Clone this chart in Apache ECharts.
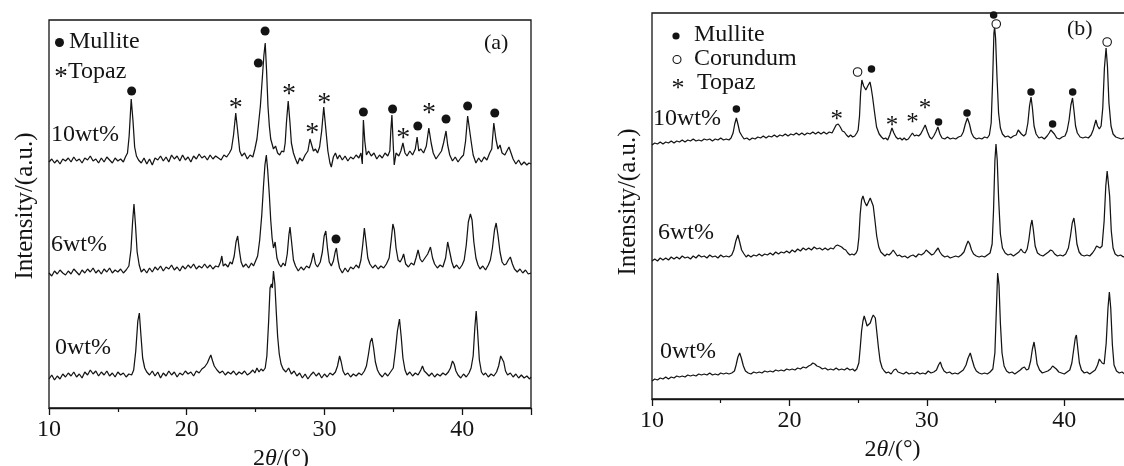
<!DOCTYPE html>
<html><head><meta charset="utf-8">
<script src="https://cdn.jsdelivr.net/npm/echarts@6/dist/echarts.min.js"></script>
<style>html,body{margin:0;padding:0;background:#fff;overflow:hidden}#c{width:1124px;height:466px}</style>
</head><body><div id="c"></div>
<script>
// 2θ tick labels
const xTicks = [10, 20, 30, 40];
// Panel (a): [2θ, intensity a.u.]
const a10 = [[10.0,-1],[10.2,2],[10.4,-2],[10.6,1],[10.8,-3],[11.0,2],[11.2,0],[11.4,3],[11.6,-1],[11.8,4],[12.0,0],[12.2,2],[12.4,-2],[12.6,3],[12.8,1],[13.0,5],[13.2,0],[13.4,2],[13.6,-2],[13.8,3],[14.0,-1],[14.2,4],[14.4,1],[14.6,-2],[14.8,3],[15.0,0],[15.2,2],[15.4,-1],[15.55,4],[15.7,8],[15.82,25],[15.97,62],[16.1,40],[16.22,14],[16.35,5],[16.5,1],[16.7,-2],[16.9,3],[17.1,-3],[17.3,2],[17.5,-4],[17.7,3],[17.9,1],[18.1,5],[18.3,0],[18.5,4],[18.7,-1],[18.9,6],[19.1,2],[19.3,5],[19.5,0],[19.7,6],[19.9,1],[20.1,4],[20.3,-1],[20.5,5],[20.7,2],[20.9,7],[21.1,3],[21.3,5],[21.5,1],[21.7,6],[21.9,2],[22.1,5],[22.3,3],[22.5,1],[22.7,6],[22.9,4],[23.1,8],[23.25,12],[23.4,26],[23.56,48],[23.7,30],[23.85,10],[24.0,5],[24.2,8],[24.4,2],[24.6,6],[24.8,4],[24.95,12],[25.1,22],[25.2,35],[25.35,55],[25.5,85],[25.6,105],[25.7,118],[25.8,90],[25.9,55],[26.0,35],[26.1,22],[26.2,20],[26.3,12],[26.45,15],[26.6,8],[26.75,6],[26.9,10],[27.05,9],[27.15,18],[27.25,40],[27.37,60],[27.5,38],[27.6,18],[27.75,8],[27.9,2],[28.05,-3],[28.2,3],[28.4,0],[28.6,6],[28.8,10],[28.95,22],[29.05,24],[29.2,10],[29.35,12],[29.5,8],[29.65,14],[29.8,30],[29.95,54],[30.1,32],[30.25,10],[30.4,-2],[30.5,-6],[30.65,4],[30.8,8],[30.95,2],[31.1,6],[31.3,1],[31.5,5],[31.7,0],[31.9,4],[32.1,2],[32.3,6],[32.5,3],[32.65,8],[32.75,-3],[32.83,41],[32.93,20],[33.05,6],[33.2,10],[33.4,5],[33.6,8],[33.8,2],[34.0,6],[34.2,3],[34.4,8],[34.6,5],[34.75,10],[34.82,30],[34.9,46],[35.0,15],[35.07,-4],[35.2,8],[35.4,5],[35.55,10],[35.7,18],[35.85,8],[36.0,5],[36.2,10],[36.4,6],[36.6,12],[36.73,24],[36.85,10],[37.0,12],[37.2,8],[37.4,15],[37.58,33],[37.75,18],[37.9,8],[38.1,2],[38.3,6],[38.5,10],[38.65,18],[38.83,30],[38.95,16],[39.1,6],[39.3,0],[39.5,4],[39.7,-1],[39.9,3],[40.1,6],[40.25,20],[40.4,45],[40.5,44],[40.65,20],[40.8,6],[41.0,-2],[41.2,3],[41.4,-1],[41.6,4],[41.8,1],[42.0,8],[42.15,12],[42.3,38],[42.45,22],[42.6,12],[42.75,16],[42.9,8],[43.1,6],[43.25,10],[43.4,14],[43.55,8],[43.7,2],[43.9,-3],[44.1,1],[44.3,-4],[44.5,-1],[44.7,-4],[44.85,-2],[45.0,-3]];
const a6 = [[10.0,-3],[10.2,-6],[10.4,-1],[10.6,-4],[10.8,0],[11.0,-3],[11.2,-5],[11.4,-1],[11.6,-4],[11.8,1],[12.0,-2],[12.2,-5],[12.4,0],[12.6,-3],[12.8,1],[13.0,-2],[13.2,2],[13.4,-3],[13.6,0],[13.8,-4],[14.0,1],[14.2,-2],[14.4,2],[14.6,-3],[14.8,0],[15.0,-2],[15.2,1],[15.4,-3],[15.6,0],[15.8,4],[15.95,20],[16.07,48],[16.17,66],[16.28,45],[16.4,18],[16.55,5],[16.7,-2],[16.9,1],[17.1,-3],[17.3,2],[17.5,-2],[17.7,3],[17.9,0],[18.1,4],[18.3,-1],[18.5,3],[18.7,1],[18.9,5],[19.1,0],[19.3,3],[19.5,-1],[19.7,4],[19.9,1],[20.1,5],[20.3,2],[20.5,6],[20.7,1],[20.9,4],[21.1,2],[21.3,6],[21.5,2],[21.7,5],[21.9,1],[22.1,4],[22.3,3],[22.45,8],[22.55,14],[22.65,4],[22.8,6],[23.0,3],[23.15,8],[23.3,6],[23.45,14],[23.58,28],[23.7,34],[23.82,20],[23.95,8],[24.1,3],[24.3,6],[24.5,2],[24.7,7],[24.85,4],[25.0,9],[25.15,14],[25.3,30],[25.45,55],[25.58,85],[25.68,105],[25.78,115],[25.88,100],[26.0,75],[26.1,50],[26.2,32],[26.3,22],[26.42,28],[26.55,12],[26.7,6],[26.85,3],[27.0,7],[27.15,4],[27.3,16],[27.42,35],[27.5,43],[27.6,30],[27.75,10],[27.9,4],[28.1,-1],[28.3,3],[28.5,0],[28.7,4],[28.9,2],[29.05,8],[29.2,17],[29.35,6],[29.5,3],[29.7,8],[29.85,18],[29.98,34],[30.1,39],[30.22,22],[30.35,8],[30.5,4],[30.65,9],[30.78,18],[30.87,22],[30.98,10],[31.1,2],[31.3,-3],[31.5,2],[31.7,-2],[31.9,3],[32.1,1],[32.3,5],[32.5,2],[32.65,10],[32.78,25],[32.9,42],[33.02,28],[33.15,12],[33.3,6],[33.5,2],[33.7,5],[33.9,1],[34.1,4],[34.3,2],[34.5,6],[34.7,12],[34.85,30],[34.97,46],[35.08,40],[35.2,22],[35.35,10],[35.5,8],[35.65,12],[35.75,16],[35.9,6],[36.1,3],[36.3,7],[36.5,5],[36.65,12],[36.8,20],[36.95,11],[37.1,8],[37.3,12],[37.5,16],[37.7,23],[37.85,12],[38.0,6],[38.2,2],[38.4,5],[38.6,3],[38.8,12],[38.95,28],[39.1,18],[39.25,8],[39.4,2],[39.6,5],[39.8,1],[40.0,5],[40.15,10],[40.3,25],[40.45,48],[40.6,56],[40.72,50],[40.85,28],[41.0,12],[41.15,5],[41.3,1],[41.5,4],[41.7,0],[41.9,5],[42.05,10],[42.2,22],[42.35,40],[42.47,47],[42.6,35],[42.75,18],[42.9,8],[43.05,5],[43.2,6],[43.35,10],[43.5,13],[43.65,6],[43.8,1],[44.0,-2],[44.2,1],[44.4,-3],[44.6,0],[44.8,-4],[45.0,-3]];
const a0 = [[10.0,-3],[10.2,1],[10.4,-4],[10.6,0],[10.8,-3],[11.0,2],[11.2,-1],[11.4,3],[11.6,0],[11.8,4],[12.0,-1],[12.2,2],[12.4,-2],[12.6,4],[12.8,1],[13.0,6],[13.2,2],[13.4,5],[13.6,0],[13.8,4],[14.0,1],[14.2,5],[14.4,0],[14.6,3],[14.8,-1],[15.0,4],[15.2,1],[15.4,3],[15.6,-1],[15.8,2],[16.0,1],[16.15,6],[16.3,25],[16.45,55],[16.56,63],[16.68,40],[16.8,18],[16.95,8],[17.1,4],[17.3,1],[17.5,5],[17.7,0],[17.9,4],[18.1,-2],[18.3,3],[18.5,0],[18.7,5],[18.9,1],[19.1,4],[19.3,-1],[19.5,3],[19.7,1],[19.9,5],[20.1,2],[20.3,4],[20.5,0],[20.7,5],[20.9,3],[21.1,7],[21.3,9],[21.5,13],[21.65,18],[21.75,21],[21.88,15],[22.0,10],[22.2,6],[22.4,3],[22.6,5],[22.8,1],[23.0,4],[23.2,2],[23.4,5],[23.6,1],[23.8,4],[24.0,2],[24.2,5],[24.4,1],[24.6,3],[24.8,6],[24.95,3],[25.1,8],[25.25,4],[25.4,7],[25.55,5],[25.7,8],[25.82,20],[25.95,55],[26.05,88],[26.15,92],[26.22,88],[26.3,105],[26.4,92],[26.5,65],[26.6,40],[26.72,22],[26.85,12],[27.0,7],[27.2,4],[27.4,8],[27.6,2],[27.8,5],[28.0,0],[28.2,3],[28.4,-2],[28.6,2],[28.8,-3],[29.0,1],[29.2,4],[29.4,0],[29.6,3],[29.8,-2],[30.0,2],[30.2,-1],[30.4,3],[30.6,1],[30.8,4],[30.95,10],[31.1,20],[31.22,14],[31.35,5],[31.5,1],[31.7,3],[31.9,-1],[32.1,2],[32.3,0],[32.5,3],[32.7,1],[32.9,5],[33.05,10],[33.2,22],[33.33,34],[33.45,38],[33.57,28],[33.7,14],[33.85,6],[34.0,2],[34.2,-1],[34.4,3],[34.6,0],[34.8,4],[35.0,8],[35.15,25],[35.3,45],[35.45,57],[35.57,40],[35.7,18],[35.85,6],[36.0,1],[36.2,4],[36.4,0],[36.6,3],[36.8,1],[37.0,6],[37.12,10],[37.25,5],[37.4,3],[37.6,0],[37.8,3],[38.0,-1],[38.2,2],[38.4,0],[38.6,3],[38.8,1],[39.0,4],[39.15,8],[39.3,15],[39.42,12],[39.55,5],[39.7,1],[39.9,-2],[40.1,2],[40.3,-1],[40.5,3],[40.65,8],[40.8,20],[40.92,48],[41.02,65],[41.12,45],[41.25,16],[41.4,4],[41.55,1],[41.7,3],[41.9,-1],[42.1,2],[42.3,0],[42.5,4],[42.65,10],[42.8,20],[42.9,22],[43.02,14],[43.15,5],[43.3,1],[43.5,3],[43.7,-1],[43.9,2],[44.1,-2],[44.3,1],[44.5,-2],[44.7,0],[44.9,-3],[45.0,-1]];
// Panel (b)
const b10 = [[10.0,-7],[10.2,-5],[10.4,-6],[10.6,-4],[10.8,-6],[11.0,-4],[11.2,-5],[11.4,-3],[11.6,-5],[11.8,-3],[12.0,-4],[12.2,-2],[12.4,-4],[12.6,-2],[12.8,-3],[13.0,-1],[13.2,-3],[13.4,-2],[13.6,-3],[13.8,-1],[14.0,-2],[14.2,-1],[14.4,-3],[14.6,-1],[14.8,-2],[15.0,0],[15.2,-2],[15.4,-1],[15.6,-2],[15.75,0],[15.9,5],[16.02,14],[16.14,20],[16.25,14],[16.38,6],[16.55,2],[16.7,-1],[16.9,0],[17.1,-2],[17.3,0],[17.5,-1],[17.7,1],[17.9,0],[18.1,2],[18.3,0],[18.5,2],[18.7,1],[18.9,3],[19.1,1],[19.3,3],[19.5,2],[19.7,4],[19.9,2],[20.1,4],[20.3,3],[20.5,5],[20.7,3],[20.9,5],[21.1,3],[21.3,5],[21.5,4],[21.7,6],[21.9,4],[22.1,6],[22.3,4],[22.5,6],[22.7,4],[22.9,6],[23.1,5],[23.25,9],[23.4,13],[23.55,14],[23.7,11],[23.85,7],[24.0,6],[24.15,3],[24.3,1],[24.45,3],[24.6,1],[24.75,2],[24.9,5],[25.0,8],[25.1,22],[25.18,45],[25.27,58],[25.4,52],[25.56,48],[25.7,52],[25.86,56],[25.95,50],[26.05,41],[26.2,25],[26.34,11],[26.53,4],[26.7,1],[26.85,-1],[27.0,0],[27.15,-2],[27.3,3],[27.46,10],[27.6,5],[27.75,1],[27.9,-1],[28.05,0],[28.2,-2],[28.35,0],[28.5,-2],[28.65,-1],[28.8,2],[28.95,5],[29.1,2],[29.25,3],[29.4,2],[29.55,4],[29.7,8],[29.88,13],[30.05,6],[30.2,1],[30.35,-1],[30.5,2],[30.65,6],[30.8,11],[30.95,4],[31.1,0],[31.3,-1],[31.5,1],[31.7,-1],[31.9,0],[32.1,-1],[32.3,1],[32.5,2],[32.65,6],[32.8,14],[32.95,20],[33.1,14],[33.25,5],[33.4,1],[33.6,-1],[33.8,0],[34.0,-1],[34.2,1],[34.4,0],[34.55,3],[34.68,15],[34.78,55],[34.88,105],[34.93,111],[35.0,100],[35.1,62],[35.22,25],[35.35,10],[35.5,4],[35.7,1],[35.9,2],[36.1,0],[36.3,2],[36.5,3],[36.65,8],[36.75,10],[36.88,4],[37.05,2],[37.2,4],[37.35,15],[37.47,32],[37.58,41],[37.68,30],[37.8,12],[37.95,4],[38.15,0],[38.35,1],[38.55,-1],[38.75,2],[38.9,5],[39.02,8],[39.15,10],[39.28,4],[39.45,0],[39.65,-1],[39.85,1],[40.05,2],[40.2,7],[40.35,18],[40.48,33],[40.6,40],[40.7,28],[40.82,12],[40.95,5],[41.15,1],[41.35,0],[41.55,1],[41.75,0],[41.95,3],[42.1,8],[42.22,14],[42.3,18],[42.42,12],[42.55,9],[42.68,12],[42.8,30],[42.92,70],[43.04,90],[43.14,72],[43.25,35],[43.4,12],[43.55,4],[43.75,1],[43.95,0],[44.15,-1],[44.35,0],[44.55,-2],[44.75,-1],[45.0,-1]];
const b6 = [[10.0,-5],[10.2,-3],[10.4,-5],[10.6,-2],[10.8,-4],[11.0,-2],[11.2,-4],[11.4,-1],[11.6,-3],[11.8,-1],[12.0,-3],[12.2,0],[12.4,-2],[12.6,-1],[12.8,-3],[13.0,0],[13.2,-2],[13.4,1],[13.6,-1],[13.8,0],[14.0,-2],[14.2,1],[14.4,-1],[14.6,0],[14.8,-2],[15.0,1],[15.2,-1],[15.4,0],[15.6,-1],[15.8,1],[15.95,6],[16.1,15],[16.25,21],[16.38,14],[16.52,6],[16.7,2],[16.85,-1],[17.0,1],[17.2,-1],[17.4,1],[17.6,0],[17.8,2],[18.0,0],[18.2,2],[18.4,1],[18.6,3],[18.8,1],[19.0,4],[19.2,2],[19.4,4],[19.6,3],[19.8,5],[20.0,3],[20.2,6],[20.4,4],[20.6,7],[20.8,5],[21.0,8],[21.2,6],[21.4,8],[21.6,6],[21.8,9],[22.0,7],[22.2,8],[22.4,6],[22.6,8],[22.8,6],[23.0,8],[23.2,7],[23.35,10],[23.5,11],[23.65,10],[23.8,9],[23.95,7],[24.1,6],[24.25,3],[24.4,1],[24.55,2],[24.7,1],[24.85,3],[24.95,6],[25.05,18],[25.15,42],[25.25,56],[25.35,60],[25.48,54],[25.62,50],[25.75,54],[25.88,58],[26.0,59],[26.1,50],[26.22,36],[26.35,20],[26.5,9],[26.65,4],[26.8,2],[26.95,0],[27.1,2],[27.25,1],[27.4,3],[27.55,6],[27.7,3],[27.85,0],[28.0,1],[28.2,-1],[28.4,0],[28.6,-2],[28.8,0],[29.0,1],[29.2,-1],[29.4,2],[29.6,1],[29.8,3],[29.95,6],[30.08,7],[30.2,3],[30.35,1],[30.5,2],[30.65,5],[30.82,8],[30.95,4],[31.1,1],[31.3,-1],[31.5,0],[31.7,-2],[31.9,-1],[32.1,0],[32.3,-1],[32.5,1],[32.7,4],[32.85,10],[33.0,15],[33.12,12],[33.25,6],[33.4,2],[33.6,0],[33.8,-1],[34.0,0],[34.2,-1],[34.4,1],[34.6,3],[34.75,12],[34.85,45],[34.95,95],[35.03,112],[35.12,96],[35.22,58],[35.35,22],[35.5,8],[35.7,3],[35.9,1],[36.1,2],[36.3,0],[36.5,2],[36.7,4],[36.85,7],[37.0,4],[37.15,3],[37.3,7],[37.42,16],[37.55,30],[37.65,36],[37.75,26],[37.88,10],[38.05,3],[38.25,1],[38.45,0],[38.65,2],[38.85,4],[39.0,6],[39.15,5],[39.3,2],[39.5,0],[39.7,1],[39.9,0],[40.1,2],[40.3,8],[40.45,20],[40.58,33],[40.7,38],[40.8,28],[40.92,12],[41.08,4],[41.25,1],[41.45,0],[41.65,1],[41.85,0],[42.05,3],[42.2,6],[42.35,10],[42.47,12],[42.6,8],[42.75,10],[42.9,35],[43.02,70],[43.12,85],[43.2,87],[43.3,60],[43.42,25],[43.55,8],[43.7,2],[43.9,0],[44.1,1],[44.3,-1],[44.5,0],[44.7,-2],[45.0,-1]];
const b0 = [[10.0,-8],[10.2,-6],[10.4,-7],[10.6,-5],[10.8,-6],[11.0,-4],[11.2,-6],[11.4,-4],[11.6,-5],[11.8,-3],[12.0,-4],[12.2,-3],[12.4,-4],[12.6,-2],[12.8,-3],[13.0,-2],[13.2,-3],[13.4,-1],[13.6,-2],[13.8,-1],[14.0,-2],[14.2,0],[14.4,-2],[14.6,-1],[14.8,-2],[15.0,0],[15.2,-1],[15.4,0],[15.6,-1],[15.8,0],[16.0,2],[16.12,8],[16.25,16],[16.38,20],[16.5,15],[16.65,7],[16.8,2],[17.0,0],[17.2,-1],[17.4,1],[17.6,0],[17.8,1],[18.0,0],[18.2,2],[18.4,1],[18.6,2],[18.8,1],[19.0,3],[19.2,2],[19.4,3],[19.6,2],[19.8,4],[20.0,3],[20.2,4],[20.4,3],[20.6,5],[20.8,4],[21.0,6],[21.2,5],[21.4,7],[21.55,8],[21.7,10],[21.85,9],[22.0,7],[22.2,6],[22.4,4],[22.6,5],[22.8,3],[23.0,4],[23.2,3],[23.4,5],[23.6,3],[23.8,4],[24.0,3],[24.2,5],[24.4,3],[24.6,4],[24.75,2],[24.9,4],[25.05,10],[25.15,25],[25.25,42],[25.35,52],[25.44,57],[25.55,52],[25.65,47],[25.75,45],[25.88,50],[26.0,55],[26.1,58],[26.17,59],[26.25,55],[26.35,42],[26.48,25],[26.6,12],[26.75,5],[26.9,2],[27.05,0],[27.2,1],[27.4,-1],[27.6,3],[27.75,4],[27.9,1],[28.1,0],[28.3,-1],[28.5,1],[28.7,-1],[28.9,0],[29.1,-1],[29.3,1],[29.5,-1],[29.7,0],[29.9,-1],[30.1,2],[30.3,0],[30.5,1],[30.7,3],[30.85,8],[30.98,11],[31.1,6],[31.25,2],[31.45,0],[31.65,1],[31.85,-1],[32.05,0],[32.25,-1],[32.45,1],[32.65,3],[32.85,8],[33.0,15],[33.16,20],[33.3,13],[33.45,6],[33.6,2],[33.8,0],[34.0,-1],[34.2,0],[34.4,-1],[34.6,1],[34.8,4],[34.95,20],[35.05,60],[35.15,100],[35.25,88],[35.35,50],[35.47,20],[35.62,7],[35.8,2],[36.0,0],[36.2,1],[36.4,-1],[36.6,1],[36.8,3],[36.95,5],[37.1,6],[37.25,3],[37.4,4],[37.55,12],[37.68,24],[37.8,31],[37.9,22],[38.02,9],[38.2,3],[38.4,0],[38.6,1],[38.8,2],[39.0,4],[39.15,7],[39.28,8],[39.42,4],[39.6,1],[39.8,0],[40.0,-1],[40.2,1],[40.4,3],[40.55,10],[40.7,25],[40.8,35],[40.88,38],[40.98,25],[41.1,10],[41.25,3],[41.45,0],[41.65,1],[41.85,-1],[42.05,1],[42.25,3],[42.42,8],[42.55,14],[42.63,16],[42.75,10],[42.9,9],[43.05,30],[43.18,65],[43.28,81],[43.38,65],[43.5,28],[43.62,8],[43.8,2],[44.0,0],[44.2,1],[44.4,-1],[44.6,0],[44.8,-1],[45.0,-2]];
// vertical stacking offsets (a.u.) of each pattern
const offA = [247, 138, 32];   // 10wt%, 6wt%, 0wt%
const offB = [261, 143, 26];
// phase markers [2θ, level a.u.]
const aMullite = [[16.0,317],[25.2,345],[25.69,377],[32.83,296],[34.95,299],[36.78,282],[38.83,289],[40.4,302],[42.37,295],[30.84,169]];
const aTopaz = [[23.56,305],[27.43,319],[29.12,280],[29.98,310],[35.73,275],[37.6,300]];
const bMullite = [[16.14,290],[25.97,330],[30.85,277],[32.92,286],[34.86,384],[37.58,307],[39.15,275],[40.61,307]];
const bCorundum = [[24.96,327],[35.05,375],[43.12,357]];
const bTopaz = [[23.45,285],[27.46,279],[28.96,282],[29.86,296]];
const sampleNames = ['10wt%', '6wt%', '0wt%'];

const INK = '#141414';
const FONT = '"Liberation Serif", "Times New Roman", serif';
const chart = echarts.init(document.getElementById('c'), null, {renderer: 'canvas'});
const shift = (arr, off) => arr.map(p => [p[0], p[1] + off]);
function xAx(gi, gap, pad) {
  return {
    gridIndex: gi, type: 'value', min: 10, max: 45, interval: 10,
    name: '2{i|θ}/(°)', nameLocation: 'middle', nameGap: gap,
    nameTextStyle: {fontFamily: FONT, fontSize: 24, color: INK, padding: pad,
      rich: {i: {fontFamily: FONT, fontSize: 24, fontStyle: 'italic', color: INK}}},
    axisLine: {lineStyle: {color: INK, width: 1.3}},
    axisTick: {length: 7, lineStyle: {color: INK, width: 1.3}},
    minorTick: {show: true, splitNumber: 2, length: 4, lineStyle: {color: INK, width: 1.2}},
    axisLabel: {fontFamily: FONT, fontSize: 24, color: INK, margin: 10,
      formatter: v => xTicks.includes(v) ? String(v) : ''},
    splitLine: {show: false}
  };
}
function yAx(gi, max, gap, pad) {
  return {
    gridIndex: gi, type: 'value', min: 0, max: max,
    name: 'Intensity/(a.u.)', nameLocation: 'middle', nameGap: gap,
    nameTextStyle: {fontFamily: FONT, fontSize: 25, color: INK, padding: pad},
    axisLine: {show: false}, axisTick: {show: false}, axisLabel: {show: false}, splitLine: {show: false}
  };
}
function lineS(data, gi) {
  return {type: 'line', xAxisIndex: gi, yAxisIndex: gi, data: data, showSymbol: false, symbol: 'none',
    lineStyle: {color: INK, width: 1.25, opacity: 1}, silent: true, z: 3};
}
function dots(data, gi, size) {
  return {type: 'scatter', xAxisIndex: gi, yAxisIndex: gi, data: data, symbol: 'circle', symbolSize: size,
    itemStyle: {color: INK, opacity: 1}, silent: true, z: 4};
}
function rings(data, gi, size) {
  return {type: 'scatter', xAxisIndex: gi, yAxisIndex: gi, data: data, symbol: 'circle', symbolSize: size,
    itemStyle: {color: '#fff', borderColor: INK, borderWidth: 1.1, opacity: 1}, silent: true, z: 4};
}
function stars(data, gi, fs) {
  return {type: 'scatter', xAxisIndex: gi, yAxisIndex: gi, data: data, symbol: 'circle', symbolSize: 1,
    itemStyle: {color: 'rgba(0,0,0,0)', opacity: 1}, silent: true, z: 4,
    label: {show: true, position: 'inside', formatter: '*', fontFamily: FONT, fontSize: fs, color: INK, opacity: 1,
      offset: [0, Math.round(fs * 0.22)]}};
}
function txt(t, x, y, fs, align) {
  return {type: 'text', silent: true, z: 10, style: {text: t, x: x, y: y, fill: INK, font: fs + 'px ' + FONT,
    align: align || 'left', verticalAlign: 'middle', textAlign: align || 'left', textVerticalAlign: 'middle'}};
}
const graphic = [
  txt(sampleNames[0], 51, 135, 24), txt(sampleNames[1], 51, 245, 24), txt(sampleNames[2], 55, 348, 24),
  txt(sampleNames[0], 653, 119, 24), txt(sampleNames[1], 658, 233, 24), txt(sampleNames[2], 660, 352, 24),
  txt('(a)', 484, 43, 22), txt('(b)', 1067, 29, 22),
  {type: 'circle', silent: true, z: 10, shape: {cx: 59.5, cy: 42.5, r: 4.5}, style: {fill: INK}},
  txt('Mullite', 69, 42, 24),
  txt('*', 61, 78, 27, 'center'), txt('Topaz', 68, 72, 24),
  {type: 'circle', silent: true, z: 10, shape: {cx: 676, cy: 36, r: 3.6}, style: {fill: INK}},
  txt('Mullite', 694, 35, 24),
  {type: 'circle', silent: true, z: 10, shape: {cx: 677, cy: 59.5, r: 4}, style: {fill: '#fff', stroke: INK, lineWidth: 1.1}},
  txt('Corundum', 694, 59, 24),
  txt('*', 678, 89, 26, 'center'), txt('Topaz', 697, 83, 24)
];
chart.setOption({
  animation: false,
  backgroundColor: '#fff',
  grid: [
    {left: 49, top: 20, width: 482, height: 388, show: true, borderColor: INK, borderWidth: 1.3,
     backgroundColor: 'transparent', containLabel: false, outerBoundsMode: 'none'},
    {left: 652, top: 13, width: 481, height: 386, show: true, borderColor: INK, borderWidth: 1.3,
     backgroundColor: 'transparent', containLabel: false, outerBoundsMode: 'none'}
  ],
  xAxis: [xAx(0, 33, [0, 18, 0, 0]), xAx(1, 33, [0, 0, 0, 0])],
  yAxis: [yAx(0, 388, 11, [0, 0, 0, 16]), yAx(1, 386, 11, [0, 0, 0, 8])],
  series: [
    lineS(shift(a10, offA[0]), 0), lineS(shift(a6, offA[1]), 0), lineS(shift(a0, offA[2]), 0),
    lineS(shift(b10, offB[0]), 1), lineS(shift(b6, offB[1]), 1), lineS(shift(b0, offB[2]), 1),
    dots(aMullite, 0, 9), stars(aTopaz, 0, 28),
    dots(bMullite, 1, 7.5), rings(bCorundum, 1, 8.5), stars(bTopaz, 1, 25)
  ],
  graphic: graphic
});
</script></body></html>
